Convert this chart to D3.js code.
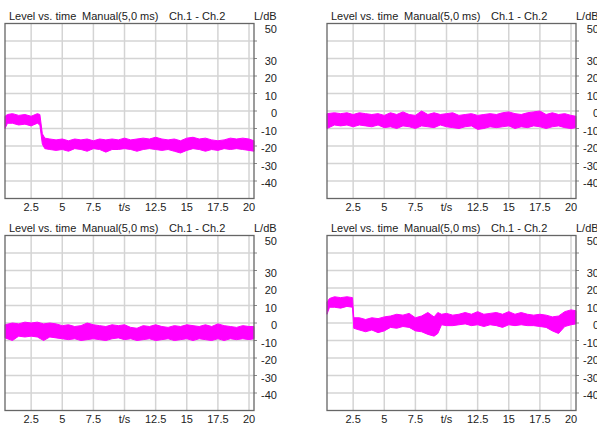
<!DOCTYPE html>
<html>
<head>
<meta charset="utf-8">
<script src="https://cdn.jsdelivr.net/npm/d3@7"></script>
<style>
  body { margin:0; background:#fff; }
  text { font-family: "Liberation Sans", Arial, sans-serif; font-size:11px; fill:#222; }
</style>
</head>
<body>
<div class="chart"></div>
<script>
// tick values / labels
const xTicks = [2.5, 5, 7.5, 10, 12.5, 15, 17.5, 20];
const xTickLabels = ['2.5', '5', '7.5', 't/s', '12.5', '15', '17.5', '20'];
const yGrid = [40, 30, 20, 10, 0, -10, -20, -30, -40];
const yTickLabels = [50, 30, 20, 10, 0, -10, -20, -30, -40];

// level envelopes (upper / lower edge of the trace, dB)
const timesA = [0.4, 0.6, 1.0, 1.5, 2.0, 2.5, 3.0, 3.2, 3.4, 3.6, 4.0, 4.5, 5.0, 5.5, 6.0, 6.5, 7.0, 7.5, 8.0, 8.5, 9.0, 9.5, 10.0, 10.5, 11.0, 11.5, 12.0, 12.5, 13.0, 13.5, 14.0, 14.5, 15.0, 15.5, 16.0, 16.5, 17.0, 17.5, 18.0, 18.5, 19.0, 19.5, 20.0, 20.4];
const highA  = [-3, -2, -1.5, -2.5, -2, -3, -1.5, -2, -13, -15.5, -16, -16.5, -16, -17, -16, -16.5, -16, -17, -16, -16.5, -16, -16.5, -15.5, -16.5, -16, -15.5, -16, -15, -16, -16.5, -16, -17, -15.5, -15, -16, -15.5, -16.5, -17, -16.5, -15.5, -16, -15.5, -16, -17];
const lowA   = [-10, -7, -7, -8, -7.5, -8.5, -7, -8, -19, -21.5, -22, -22.5, -22, -23, -21.5, -22, -23, -21.5, -22, -23.5, -22, -22, -21.5, -22, -23, -22, -21.5, -22, -22.5, -22, -23, -24, -22.5, -21.5, -22, -23, -22, -22.5, -21.5, -22, -21.5, -22, -22.5, -23];

const timesB = [0.4, 1.0, 1.5, 2.0, 2.5, 3.0, 3.5, 4.0, 4.5, 5.0, 5.5, 6.0, 6.5, 7.0, 7.5, 8.0, 8.5, 9.0, 9.5, 10.0, 10.5, 11.0, 11.5, 12.0, 12.5, 13.0, 13.5, 14.0, 14.5, 15.0, 15.5, 16.0, 16.5, 17.0, 17.5, 18.0, 18.5, 19.0, 19.5, 20.0, 20.4];
const highB  = [-1.5, -1, -1.5, -1, -2, -1, -1.5, -2, -1.5, -2.5, -1, -2, -0.5, -2, -2.5, 0, -2, -1, -2, -1.5, -1, -2.5, -2, -1.5, -2.5, -2, -1.5, -2, -1, -0.5, -1.5, -2, -1, -0.5, 0, -2, -1, -2, -1.5, -2.5, -3];
const lowB   = [-10, -8, -8.5, -8, -9, -8, -8.5, -9, -8, -9.5, -9, -10, -8.5, -9, -10, -8.5, -9, -9.5, -8, -9, -9.5, -10, -9, -8.5, -10.5, -10, -9, -9.5, -9, -8.5, -10, -9, -9.5, -8.5, -9, -10, -9, -8.5, -9.5, -10, -9.5];

const timesC = [0.4, 1.0, 1.5, 2.0, 2.5, 3.0, 3.5, 4.0, 4.5, 5.0, 5.5, 6.0, 6.5, 7.0, 7.5, 8.0, 8.5, 9.0, 9.5, 10.0, 10.5, 11.0, 11.5, 12.0, 12.5, 13.0, 13.5, 14.0, 14.5, 15.0, 15.5, 16.0, 16.5, 17.0, 17.5, 18.0, 18.5, 19.0, 19.5, 20.0, 20.4];
const highC  = [-1, 0, -0.5, 0.5, 0, 0.5, -0.5, 0, -0.5, -1.5, -1, -2, -1.5, 0, -1, -1.5, -2, -1, -1.5, -1, -2.5, -3, -1.5, -2, -1, -2, -2.5, -1.5, -2, -1, -1.5, -2, -1, -2, -0.5, -1.5, -2, -2.5, -1.5, -2, -2];
const lowC   = [-8.5, -10, -7.5, -8, -7.5, -8, -10, -8, -8.5, -9, -9.5, -9, -10, -9.5, -9, -9.5, -10, -9, -8.5, -9.5, -9, -10, -9.5, -9, -10, -9.5, -9, -10, -9.5, -9, -10, -9, -9.5, -10, -9, -10, -9, -9.5, -9, -9.5, -9];

const timesD = [0.4, 0.6, 1.0, 1.5, 2.0, 2.45, 2.55, 3.0, 3.5, 4.0, 4.5, 5.0, 5.5, 6.0, 6.5, 7.0, 7.5, 8.0, 8.5, 9.0, 9.3, 9.6, 10.0, 10.5, 11.0, 11.5, 12.0, 12.5, 13.0, 13.5, 14.0, 14.5, 15.0, 15.5, 16.0, 16.5, 17.0, 17.5, 18.0, 18.5, 19.0, 19.5, 20.0, 20.4];
const highD  = [12, 14, 15, 14.5, 15, 14.5, 3, 3, 2, 3, 2.5, 3.5, 4, 5, 4.5, 5.5, 3, 4, 6, 3.5, 6, 5, 5.5, 4.5, 5, 6, 5, 6.5, 5, 5.5, 6, 5, 6.5, 5, 6, 5, 4.5, 5, 4.5, 3.5, 4, 6.5, 7.5, 7];
const lowD   = [5, 9, 9, 8.5, 9.5, 9, -3, -4, -5, -4, -5.5, -4.5, -2.5, -3, -2, -2.5, -4.5, -5, -6.5, -7.5, -6, -1, -1.5, -1.5, -1, -0.5, -1.5, -1, -2, -1, -1.5, -2.5, -1, -1.5, -1, -1.5, -1.5, -2, -2.5, -4.5, -6, -2, -1, -0.5];

const panels = [
  {dx:0,   dy:0,   t:timesA, hi:highA, lo:lowA},
  {dx:322, dy:0,   t:timesB, hi:highB, lo:lowB},
  {dx:0,   dy:212, t:timesC, hi:highC, lo:lowC},
  {dx:322, dy:212, t:timesD, hi:highD, lo:lowD}
];

const svg = d3.select('.chart')
  .append('svg')
  .attr('width', 597)
  .attr('height', 423);

const plot = {left:5, top:23.5, width:249, height:175};

const xScale = d3.scaleLinear()
  .domain([0.4, 20.4])
  .range([plot.left, plot.left + plot.width]);

const yScale = d3.scaleLinear()
  .domain([-50, 50])
  .range([plot.top + plot.height, plot.top]);

panels.forEach(p => drawPanel(p));

function drawPanel(p) {
  const g = svg.append('g')
    .attr('transform', 'translate(' + p.dx + ',' + p.dy + ')');

  // grid
  g.selectAll('.vgrid')
    .data(xTicks)
    .enter()
    .append('line')
    .attr('x1', d => xScale(d)).attr('x2', d => xScale(d))
    .attr('y1', plot.top).attr('y2', plot.top + plot.height)
    .attr('stroke', '#d4d4d4')
    .attr('stroke-width', 1.5);

  g.selectAll('.hgrid')
    .data(yGrid)
    .enter()
    .append('line')
    .attr('x1', plot.left).attr('x2', plot.left + plot.width)
    .attr('y1', d => yScale(d)).attr('y2', d => yScale(d))
    .attr('stroke', '#d4d4d4')
    .attr('stroke-width', 1.5);

  // little ticks on the right edge
  g.selectAll('.rtick')
    .data(yGrid)
    .enter()
    .append('line')
    .attr('x1', plot.left + plot.width).attr('x2', plot.left + plot.width + 3)
    .attr('y1', d => yScale(d)).attr('y2', d => yScale(d))
    .attr('stroke', '#888')
    .attr('stroke-width', 1);

  // trace envelope
  const rows = p.t.map((t, i) => ({t:t, hi:p.hi[i], lo:p.lo[i]}));
  const area = d3.area()
    .x(d => xScale(d.t))
    .y0(d => yScale(d.lo))
    .y1(d => yScale(d.hi));

  g.append('path')
    .datum(rows)
    .attr('d', area)
    .attr('fill', '#ff00ff')
    .attr('stroke', '#ff00ff')
    .attr('stroke-width', 1);

  // frame
  g.append('rect')
    .attr('x', plot.left).attr('y', plot.top)
    .attr('width', plot.width).attr('height', plot.height)
    .attr('fill', 'none')
    .attr('stroke', '#666')
    .attr('stroke-width', 1.3);

  // header
  const titles = [
    {x:9, s:'Level vs. time'},
    {x:82, s:'Manual(5,0 ms)'},
    {x:169, s:'Ch.1 - Ch.2'},
    {x:254, s:'L/dB'}
  ];
  g.selectAll('.title')
    .data(titles)
    .enter()
    .append('text')
    .attr('x', d => d.x)
    .attr('y', 20)
    .text(d => d.s);

  // y labels
  g.selectAll('.ylab')
    .data(yTickLabels)
    .enter()
    .append('text')
    .attr('x', 277)
    .attr('y', d => d == 50 ? 33 : yScale(d) + 6)
    .attr('text-anchor', 'end')
    .text(d => d);

  // x labels
  g.selectAll('.xlab')
    .data(xTicks)
    .enter()
    .append('text')
    .attr('x', d => xScale(d))
    .attr('y', 211)
    .attr('text-anchor', 'middle')
    .text((d, i) => xTickLabels[i]);
}
</script>
</body>
</html>
